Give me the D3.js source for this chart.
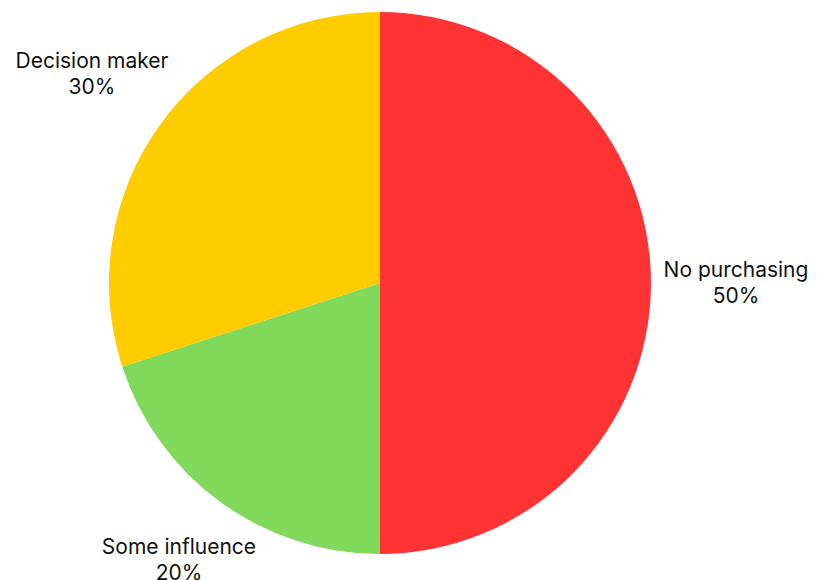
<!DOCTYPE html>
<html>
<head>
<meta charset="utf-8">
<script src="https://cdn.jsdelivr.net/npm/d3@7"></script>
<style>
  body { margin: 0; background: #fff; }
  text { font-family: Inter, "Noto Sans", sans-serif; }
</style>
</head>
<body>
<svg id="chart" width="817" height="580"></svg>
<script>
// values
const labels = ["No purchasing", "Some influence", "Decision maker"];
const values = [50, 20, 30];
const colors = ["#ff3333", "#80d95a", "#ffcc00"];

const svg = d3.select("#chart"),
    width = +svg.attr("width"),
    height = +svg.attr("height"),
    cx = 380,
    cy = 283,
    radius = 271;

const data = labels.map((l, i) => ({ label: l, value: values[i], color: colors[i] }));

const pie = d3.pie().value(d => d.value).sort(null);
const arc = d3.arc().innerRadius(0).outerRadius(radius);

const g = svg.append("g").attr("transform", `translate(${cx},${cy})`);

const arcs = pie(data);

g.selectAll("path")
    .data(arcs)
    .enter().append("path")
    .attr("d", arc)
    .attr("fill", d => d.data.color);

// label position: along the mid angle, pulled in if it would run off the bottom
function labelPos(d) {
    const a = (d.startAngle + d.endAngle) / 2;
    let r = 356;
    while (cy - Math.cos(a) * r > height - 20 && r > radius) r -= 1;
    return [Math.sin(a) * r, -Math.cos(a) * r];
}

const lbl = g.selectAll("text")
    .data(arcs)
    .enter().append("text")
    .attr("transform", d => `translate(${labelPos(d)})`)
    .style("text-anchor", "middle")
    .style("font-size", "21px")
    .style("fill", "#111");

lbl.append("tspan")
    .attr("x", 0)
    .attr("y", -6)
    .text(d => d.data.label);

lbl.append("tspan")
    .attr("x", 0)
    .attr("y", 20)
    .text(d => d.data.value + "%");
</script>
</body>
</html>
